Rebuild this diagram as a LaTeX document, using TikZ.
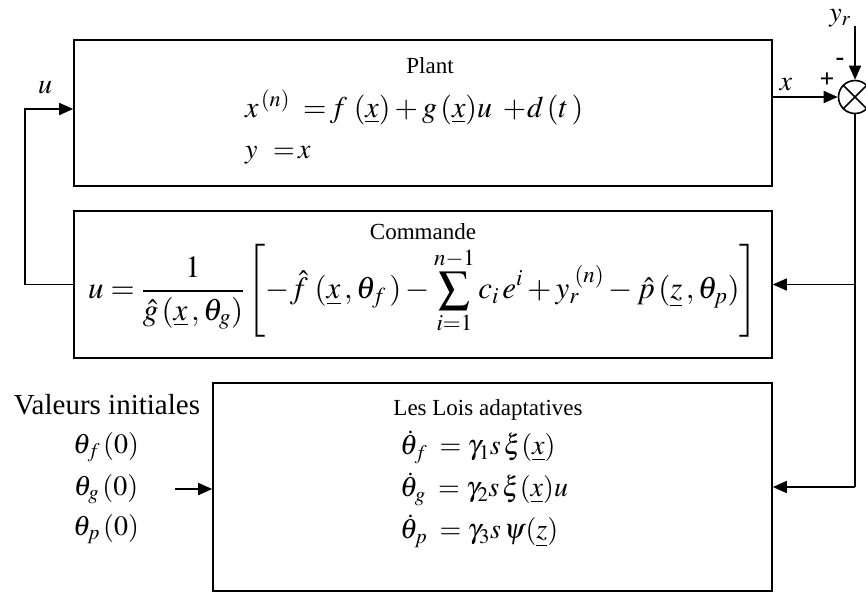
\documentclass[tikz,border=0pt]{standalone}
\usepackage{amsmath,amssymb}
\usepackage{mathptmx}
\usepackage{fontspec}
\setmainfont{Liberation Serif}
\usepackage{tikz}
\usetikzlibrary{arrows.meta,positioning,calc}

\begin{document}
\begin{tikzpicture}[x=1pt,y=-1pt,
  blk/.style={draw, line width=1.6pt, minimum width=698pt, inner sep=0pt},
  arr/.style={-{Triangle[length=14pt,width=12pt]}, line width=1.6pt},
  ttl/.style={font=\fontsize{23}{27}\selectfont, inner sep=0pt},
  eqn/.style={font=\fontsize{28}{32}\selectfont, inner sep=0pt},
  sgn/.style={font=\fontsize{26}{30}\selectfont\bfseries, inner sep=0pt}]
\useasboundingbox (0,0) rectangle (866,592);
% Blocks
\node[blk, minimum height=146pt] (plant) at (423,113) {};
\node[blk, minimum height=147pt] (cmd) at (423,284.5) {};
\node[blk, minimum width=559pt, minimum height=208pt] (lois) at (492.5,487) {};
% Comparator
\node[draw, circle, line width=1.6pt, minimum size=33pt, inner sep=0pt] (sum) at (855,97) {};
\draw[line width=1.6pt] (sum.north west) -- (sum.south east) (sum.north east) -- (sum.south west);
% Plant
\node[ttl] (plantT) at (430,66) {Plant};
\node[font=\fontsize{30}{34}\selectfont, inner sep=0pt, anchor=west] (plantE1) at (245,107) {$x^{\,(n)} \;=\! f\;(\underline{x})+g\,(\underline{x})u \;+\! d\,(t\,)$};
\node[eqn, anchor=west] (plantE2) at (245,155) {$y \;\,=\! x$};
% Commande
\node[ttl] (cmdT) at (423,232) {Commande};
\node[font=\fontsize{31}{35}\selectfont, inner sep=0pt] (cmdE) at (423,291) {$\displaystyle u = \frac{1}{\hat{g}\,(\underline{x}\,,\theta_g)}\left[-\hat{f}\;(\underline{x}\,,\theta_f\,) - \sum_{i=1}^{n-1} c_i\, e^i + y_r^{\;(n)} - \hat{p}\,(\underline{z}\,,\theta_p)\right]$};
% Lois adaptatives
\node[ttl] (loisT) at (488,410) {Les Lois adaptatives};
\node[eqn, anchor=west] (dthf) at (400,447) {$\dot{\theta}_f \;= \gamma_1 s\,\xi(\underline{x})$};
\node[eqn, anchor=west] (dthg) at (400,489) {$\dot{\theta}_g \;= \gamma_2 s\,\xi(\underline{x})u$};
\node[eqn, anchor=west] (dthp) at (400,531) {$\dot{\theta}_p \;= \gamma_3 s\,\psi(\underline{z})$};
% Valeurs initiales
\node[font=\fontsize{29}{33}\selectfont, inner sep=0pt] (val) at (107,405) {Valeurs initiales};
\node[eqn] (thf) at (106,447) {$\theta_f\,(0)$};
\node[eqn] (thg) at (106,489) {$\theta_g\,(0)$};
\node[eqn] (thp) at (106,529) {$\theta_p\,(0)$};
% Signals
\draw[arr] (plant.east |- sum.west) -- node[eqn, above=5pt, pos=0.2] (xlbl) {$x$} (sum.west);
\node[sgn] (plus) at (827,80) {+};
\node[sgn] (minus) at (840,62) {-};
\node[eqn] (yr) at (840,18) {$y_r$};
\coordinate (yrin) at (855,26);
\draw[arr] (yrin) -- (sum.north);
% Feedback
\draw[line width=1.6pt] (sum.south) -- (sum.south |- lois.east);
\draw[arr] (sum.south |- cmd.east) -- (cmd.east);
\draw[arr] (sum.south |- lois.east) -- (lois.east);
% Control loop
\draw[arr] (cmd.west) -- ++(-48,0) |- ([yshift=4pt]plant.west);
\node[eqn] (ulbl) at (45,88) {$u$};
% Initial values
\coordinate (init) at (175,489);
\draw[arr] (init) -- (init -| lois.west);
\end{tikzpicture}
\end{document}
